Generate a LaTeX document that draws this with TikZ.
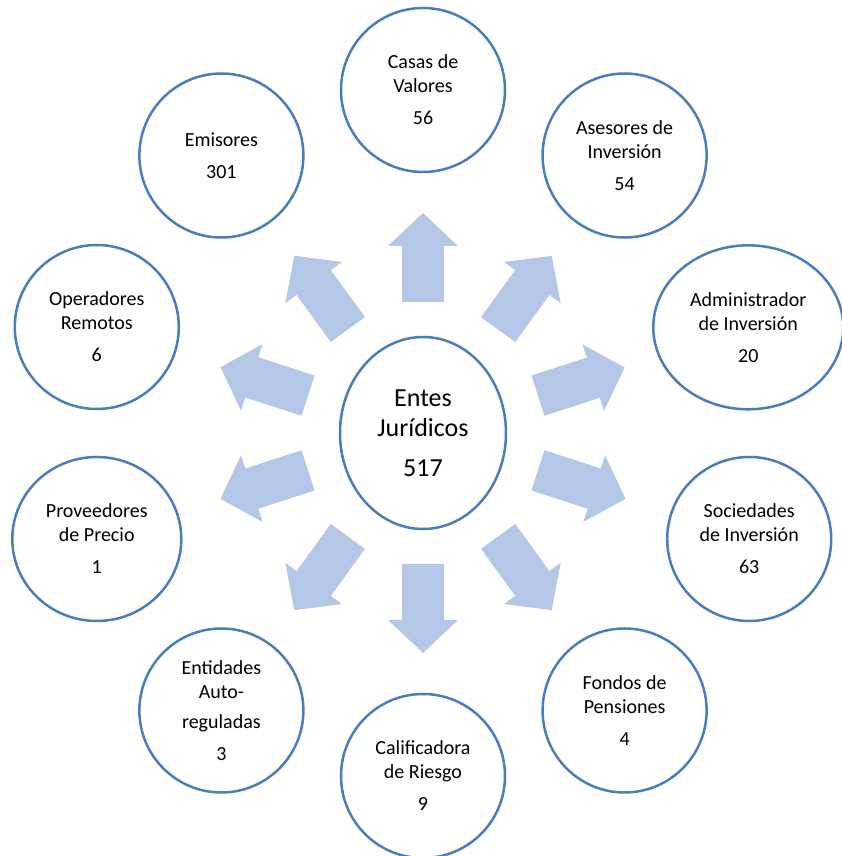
\documentclass[tikz,border=0pt]{standalone}
\usepackage{fontspec}
\setmainfont{Carlito}
\usepackage{tikz}
\usetikzlibrary{shapes,arrows.meta}
\definecolor{ringblue}{RGB}{74,126,187}
\definecolor{arrowblue}{RGB}{180,199,231}
\tikzstyle{entity} = [circle, draw=ringblue, line width=2.5pt, fill=white,
    minimum size=164pt, inner sep=0pt, align=center, font=\fontsize{20}{24}\selectfont]
\tikzstyle{hub} = [ellipse, draw=ringblue, line width=2.5pt, fill=white,
    minimum width=166pt, minimum height=192pt, inner sep=0pt, align=center,
    font=\fontsize{26}{30}\selectfont]
\tikzset{blockarrow/.style 2 args={draw=arrowblue, line width=42pt,
    shorten <=#1, shorten >=#2,
    -{Triangle[length=33pt 0 0, width=70pt 0 0, line width=0pt 0 0]},
    preaction={draw=arrowblue, line width=42pt, -, shorten >=#2+23pt}}}

\begin{document}
\begin{tikzpicture}[x=1pt, y=1pt]
    \useasboundingbox (-423,-423) rectangle (418,433);
    % Place nodes
    \node [hub] (centre) at (0,0) {Entes\\Jurídicos\\[10pt]517};
    \node [entity] (casas) at (90:343) {Casas de\\Valores\\[8pt]56};
    \node [entity] (asesores) at (54:343) {Asesores de\\Inversión\\[8pt]54};
    \node [entity, ellipse, minimum width=190pt, minimum height=164pt] (admin) at (18:342) {Administrador\\de Inversión\\[8pt]20};
    \node [entity] (sociedades) at (-18:343) {Sociedades\\de Inversión\\[8pt]63};
    \node [entity] (fondos) at (-54:343) {Fondos de\\Pensiones\\[8pt]4};
    \node [entity] (calificadora) at (-90:343) {Calificadora\\de Riesgo\\[8pt]9};
    \node [entity] (entidades) at (-126:343) {Entidades\\Auto-\\[6pt]reguladas\\[8pt]3};
    \node [entity, ellipse, minimum width=169pt, minimum height=164pt] (proveedores) at (198:343) {Proveedores\\de Precio\\[8pt]1};
    \node [entity] (operadores) at (162:343) {Operadores\\Remotos\\[8pt]6};
    \node [entity] (emisores) at (126:343) {Emisores\\[8pt]301};
    % Draw edges
    \path [blockarrow={131pt}{123pt}] (centre.center) -- (casas.center);
    \path [blockarrow={128pt}{124pt}] (centre.center) -- (asesores.center);
    \path [blockarrow={121pt}{130pt}] (centre.center) -- (admin.center);
    \path [blockarrow={121pt}{130pt}] (centre.center) -- (sociedades.center);
    \path [blockarrow={128pt}{124pt}] (centre.center) -- (fondos.center);
    \path [blockarrow={131pt}{123pt}] (centre.center) -- (calificadora.center);
    \path [blockarrow={128pt}{124pt}] (centre.center) -- (entidades.center);
    \path [blockarrow={121pt}{130pt}] (centre.center) -- (proveedores.center);
    \path [blockarrow={121pt}{130pt}] (centre.center) -- (operadores.center);
    \path [blockarrow={128pt}{124pt}] (centre.center) -- (emisores.center);
\end{tikzpicture}
\end{document}
